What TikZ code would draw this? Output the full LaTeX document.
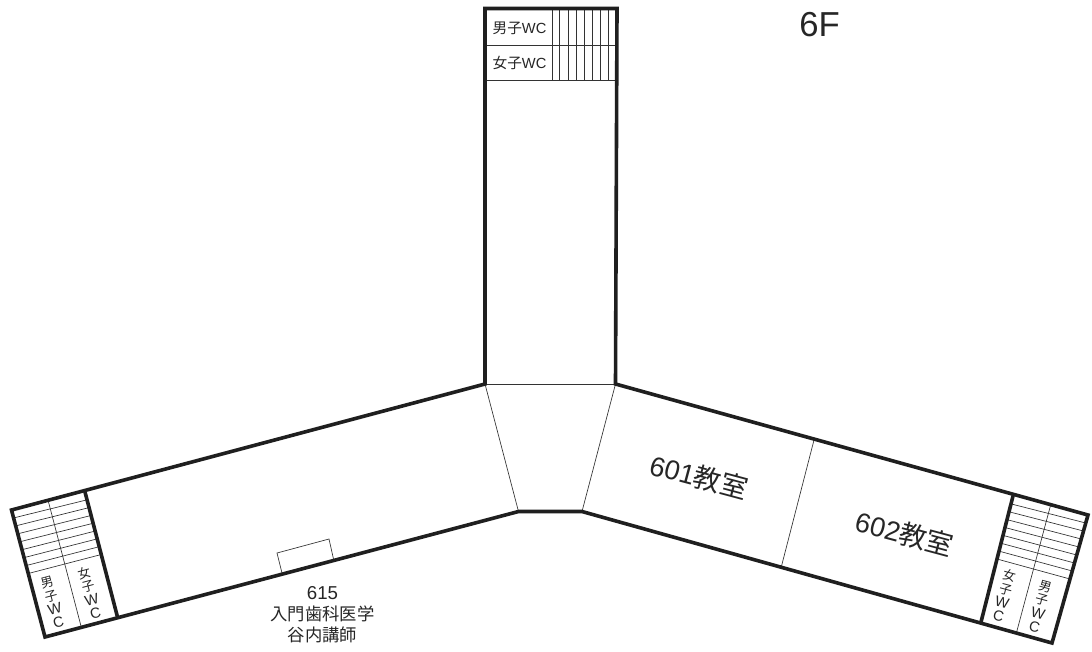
\documentclass[tikz,border=0pt]{standalone}
\usepackage{fontspec}
\setmainfont{Liberation Sans}
\newfontfamily\cjk{Noto Sans CJK JP}
\usetikzlibrary{calc}
\newcommand{\kj}[1]{{\cjk #1}}
\newcommand{\kjs}[1]{{\cjk\fontsize{9.6}{10.4}\selectfont #1}}
\tikzset{
  wall/.style={line width=2.7pt,line join=miter,line cap=round,black!88},
  thin/.style={line width=0.5pt,black!80},
  lab/.style={inner sep=0pt,align=center,text=black!85},
  wc/.style={lab,font=\fontsize{11}{10.4}\selectfont},
  room/.style={lab,font=\fontsize{20.5}{22}\selectfont},
  topwc/.style={lab,font=\fontsize{11}{12}\selectfont}
}
\begin{document}
\begin{tikzpicture}[x=0.75pt,y=-0.75pt]
\useasboundingbox (0,0) rectangle (1092,651);
\fill[white] (0,0) rectangle (1092,651);
% corners
\coordinate (tl) at (485,8.5);
\coordinate (tr) at (617,8.5);
\coordinate (jl) at (485,384);
\coordinate (jr) at (615.5,384);
\coordinate (bl) at (518.5,511.5);
\coordinate (br) at (582,511.5);
\coordinate (la) at (11.5,510);
\coordinate (lb) at (85,492);
\coordinate (lc) at (117.5,617);
\coordinate (ld) at (45,637);
\coordinate (ra) at (1013,496);
\coordinate (rb) at (1088,515);
\coordinate (rc) at (1052,643);
\coordinate (rd) at (981,622);
% thin lines
\draw[thin] (jl)--(jr);
\draw[thin] (jl)--(bl);
\draw[thin] (jr)--(br);
\draw[thin] (814,440)--(781,568);
\draw[thin] (485,45)--(617,45);
\draw[thin] (485,80)--(617,80);
\foreach \x in {552,559,568,576,584,592,600,608}
  \draw[thin] (\x,8.5)--(\x,80);
% left stairs
\draw[thin] ($(la)!0.5!(lb)$) -- ($(ld)!0.5!(lc)$);
\foreach \t in {0.0625,0.125,0.1875,0.25,0.3125,0.375,0.4375,0.5}
  \draw[thin] ($(la)!\t!(ld)$) -- ($(lb)!\t!(lc)$);
% right stairs
\draw[thin] ($(ra)!0.5!(rb)$) -- ($(rd)!0.5!(rc)$);
\foreach \t in {0.0625,0.125,0.1875,0.25,0.3125,0.375,0.4375,0.5}
  \draw[thin] ($(ra)!\t!(rd)$) -- ($(rb)!\t!(rc)$);
% small box
\draw[thin] (282,573)--(277,553)--(329,539)--(333.5,559);
% walls
\draw[wall] (jl)--(tl)--(tr)--(jr)--(rb)--(rc)--(br)--(bl)--(ld)--(la)--cycle;
\draw[wall] (lb)--(lc);
\draw[wall] (ra)--(rd);
% labels
\node[lab,font=\fontsize{26}{26}\selectfont] (six) at (819.5,25) {6F};
\node[topwc] (m1) at (519.5,28) {\kj{男子}WC};
\node[topwc] (w1) at (519.5,63) {\kj{女子}WC};
\node[wc,rotate=15] (m2) at (53,602.5) {\kjs{男}\\\kjs{子}\\W\\C};
\node[wc,rotate=15] (w2) at (90,592.5) {\kjs{女}\\\kjs{子}\\W\\C};
\node[wc,rotate=-15] (w3) at (1004,595.5) {\kjs{女}\\\kjs{子}\\W\\C};
\node[wc,rotate=-15] (m3) at (1040,606.5) {\kjs{男}\\\kjs{子}\\W\\C};
\node[room,rotate=-15] (r601) at (699,477) {601\kj{教室}};
\node[room,rotate=-15] (r602) at (904.5,533.5) {602\kj{教室}};
\node[lab,font=\fontsize{13}{15.7}\selectfont] (t615) at (322.5,615) {{\fontsize{14}{15.7}\selectfont 615}\\\kj{入門歯科医学}\\\kj{谷内講師}};
\end{tikzpicture}
\end{document}
